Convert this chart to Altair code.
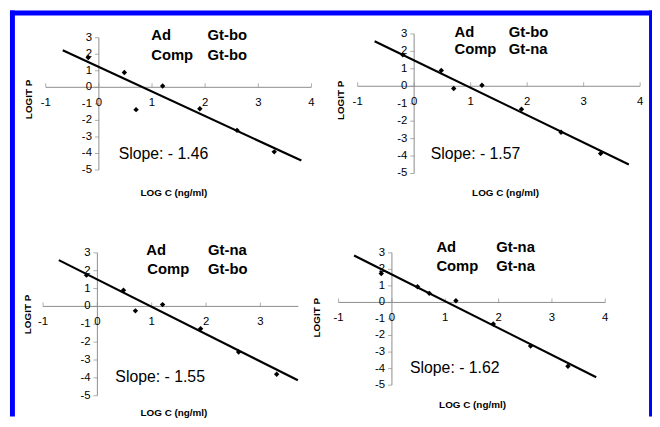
import altair as alt
import pandas as pd

# ---------------- data ----------------
LOG_C = [-0.2, 0.48, 0.7, 1.2, 1.9, 2.6, 3.3]
LOGIT_P = [
    [1.8, 0.9, -1.35, 0.08, -1.3, -2.6, -3.9],     # Ad Gt-bo / Comp Gt-bo
    [1.8, 0.9, -0.13, 0.06, -1.32, -2.64, -3.86],  # Ad Gt-bo / Comp Gt-na
    [1.75, 0.9, -0.25, 0.1, -1.25, -2.55, -3.8],   # Ad Gt-na / Comp Gt-bo
    [1.75, 0.95, 0.55, 0.1, -1.3, -2.63, -3.86],   # Ad Gt-na / Comp Gt-na
]
FIT_X = [[-0.68, 3.81], [-0.70, 3.80], [-0.71, 3.69], [-0.71, 3.83]]
FIT_Y = [[2.24, -4.43], [2.58, -4.48], [2.59, -4.13], [2.84, -4.52]]
AD = ["Gt-bo", "Gt-bo", "Gt-na", "Gt-na"]
COMP = ["Gt-bo", "Gt-na", "Gt-bo", "Gt-na"]
SLOPES = ["- 1.46", "- 1.57", "- 1.55", "- 1.62"]
Y_TICKS = [-5, -4, -3, -2, -1, 0, 1, 2, 3]
X_TICKS = [[-1, 0, 1, 2, 3, 4], [-1, 0, 1, 2, 3, 4], [-1, 0, 1, 2, 3], [-1, 0, 1, 2, 3, 4]]
X_AXIS_END = [4, 4, 3.7, 4]

# ---------------- layout (pixels) ----------------
FONT = "Liberation Sans"
LAYOUT = [
    dict(xr=[38.2, 307.2], yr=[161.5, 27.5], ad=(145, 25), comp=(145, 45), gt=202,
         slope=(112, 145), ytitle=(21, 90), xtitle=(168, 184.5)),
    dict(xr=[354, 640], yr=[165, 23.7], ad=(452, 22), comp=(452, 39.5), gt=507,
         slope=(428, 145.5), ytitle=(337, 91), xtitle=(503.7, 185)),
    dict(xr=[35.5, 310.5], yr=[390, 245.3], ad=(140, 243), comp=(141, 262), gt=202.5,
         slope=(108.7, 371), ytitle=(20, 307.7), xtitle=(168, 407.5)),
    dict(xr=[334.7, 604.7], yr=[379.3, 245.3], ad=(433.7, 239), comp=(433.7, 258.5), gt=494.3,
         slope=(407, 361.8), ytitle=(313, 311), xtitle=(470.3, 399.7)),
]

ONE = pd.DataFrame({"a": [0]})


def label(text, px, py, size, bold=False, angle=0, align="left"):
    props = dict(text=text, fontSize=size, fontWeight="bold" if bold else "normal",
                 font=FONT, align=align, baseline="middle", color="black")
    if angle:
        props["angle"] = angle
    return alt.Chart(ONE).mark_text(**props).encode(x=alt.value(px), y=alt.value(py))


def panel(i):
    L = LAYOUT[i]
    xs = alt.Scale(domain=[-1, 4], range=L["xr"], nice=False, zero=False)
    ys = alt.Scale(domain=[-5, 3], range=L["yr"], nice=False, zero=False)

    def X(f="x"):
        return alt.X(f + ":Q", scale=xs, axis=None)

    def Y(f="y"):
        return alt.Y(f + ":Q", scale=ys, axis=None)

    xaxis = alt.Chart(pd.DataFrame({"x": [-1], "x2": [X_AXIS_END[i]], "y": [0]})).mark_rule(
        color="#8c8c8c", strokeWidth=1).encode(x=X(), x2="x2:Q", y=Y())
    yaxis = alt.Chart(pd.DataFrame({"x": [0], "y": [-5], "y2": [3]})).mark_rule(
        color="#8c8c8c", strokeWidth=1).encode(x=X(), y=Y(), y2="y2:Q")

    xt = pd.DataFrame({"x": X_TICKS[i], "y": [0] * len(X_TICKS[i]),
                       "t": [str(v) for v in X_TICKS[i]]})
    yt = pd.DataFrame({"x": [0] * len(Y_TICKS), "y": Y_TICKS, "t": [str(v) for v in Y_TICKS]})

    xticks = alt.Chart(xt).mark_tick(orient="vertical", size=4, thickness=1, yOffset=-2,
                                     color="#8c8c8c").encode(x=X(), y=Y())
    yticks = alt.Chart(yt).mark_tick(orient="horizontal", size=4, thickness=1, xOffset=-2,
                                     color="#8c8c8c").encode(x=X(), y=Y())
    xlabels = alt.Chart(xt).mark_text(fontSize=11.5, font=FONT, align="center", baseline="middle",
                                      dy=16, color="black").encode(x=X(), y=Y(), text="t:N")
    ylabels = alt.Chart(yt).mark_text(fontSize=11.5, font=FONT, align="right", baseline="middle",
                                      dx=-7, color="black").encode(x=X(), y=Y(), text="t:N")

    fit = alt.Chart(pd.DataFrame({"x": FIT_X[i], "y": FIT_Y[i]})).mark_line(
        color="black", strokeWidth=2.2).encode(x=X(), y=Y())
    pts = alt.Chart(pd.DataFrame({"x": LOG_C, "y": LOGIT_P[i]})).mark_point(
        shape="diamond", filled=True, size=30, color="black", opacity=1).encode(x=X(), y=Y())

    texts = [
        label("Ad", L["ad"][0], L["ad"][1], 15, bold=True),
        label("Comp", L["comp"][0], L["comp"][1], 15, bold=True),
        label(AD[i], L["gt"], L["ad"][1], 15, bold=True),
        label(COMP[i], L["gt"], L["comp"][1], 15, bold=True),
        label("Slope: " + SLOPES[i], L["slope"][0], L["slope"][1], 16),
        label("LOGIT P", L["ytitle"][0], L["ytitle"][1], 10, bold=True, angle=270, align="center"),
        label("LOG C (ng/ml)", L["xtitle"][0], L["xtitle"][1], 10, bold=True, align="center"),
    ]
    return alt.layer(xaxis, yaxis, xticks, yticks, xlabels, ylabels, fit, pts, *texts)


BLUE = "#0000ff"
border = [
    alt.Chart(ONE).mark_rect(color=BLUE).encode(x=alt.value(2), x2=alt.value(7),
                                                y=alt.value(0), y2=alt.value(411)),
    alt.Chart(ONE).mark_rect(color=BLUE).encode(x=alt.value(2), x2=alt.value(652),
                                                y=alt.value(0), y2=alt.value(5)),
    alt.Chart(ONE).mark_rect(color=BLUE).encode(x=alt.value(649), x2=alt.value(652),
                                                y=alt.value(0), y2=alt.value(411)),
]

chart = alt.layer(
    *border, panel(0), panel(1), panel(2), panel(3)
).resolve_scale(
    x="independent", y="independent"
).properties(
    width=652, height=411, padding=0,
    autosize=alt.AutoSizeParams(type="none"),
    background="white",
).configure_view(stroke=None)

chart.save("out.html", embed_options={"renderer": "svg", "actions": False})
